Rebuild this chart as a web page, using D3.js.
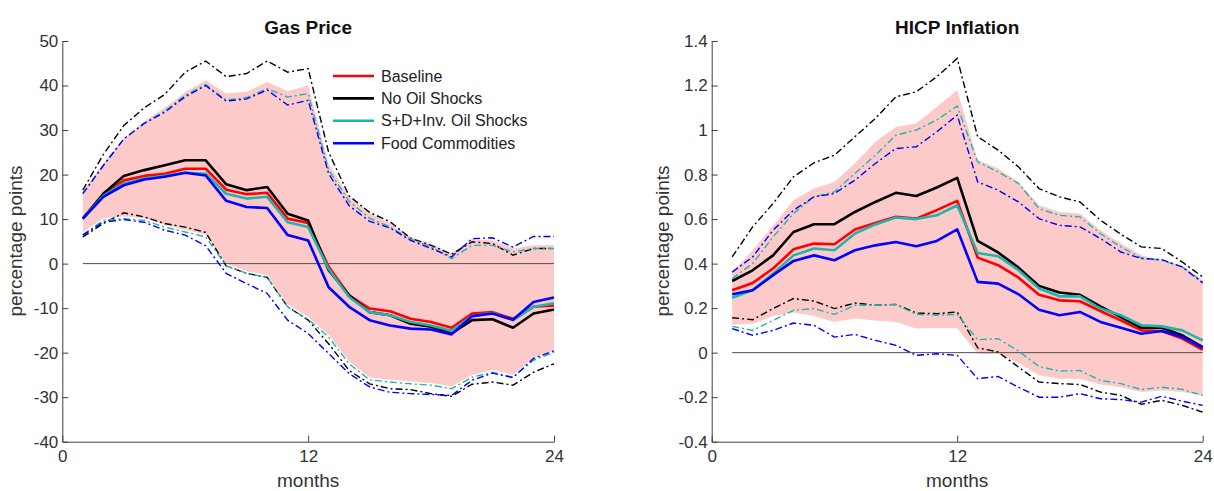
<!DOCTYPE html>
<html>
<head>
<meta charset="utf-8">
<script src="https://cdn.jsdelivr.net/npm/d3@7"></script>
<style>
  body { margin: 0; background: #fff; }
  svg { display: block; font-family: "Liberation Sans", Arial, sans-serif; }
</style>
</head>
<body>
<svg width="1214" height="491"></svg>
<script>
const months = [1, 2, 3, 4, 5, 6, 7, 8, 9, 10, 11, 12, 13, 14, 15, 16, 17, 18, 19, 20, 21, 22, 23, 24];
const xTicks = [0, 12, 24];
const seriesNames = ["Baseline", "No Oil Shocks", "S+D+Inv. Oil Shocks", "Food Commodities"];

// Gas Price
const gasTicks = [-40, -30, -20, -10, 0, 10, 20, 30, 40, 50];
const gasBase = [10.1, 15.3, 18.7, 19.7, 20.2, 21.3, 21.3, 16.6, 15.6, 15.9, 10.1, 9.1, -0.7, -7.1, -10.1, -10.7, -12.4, -13.1, -14.4, -11.2, -10.9, -12.4, -9.7, -9.4];
const gasBaseLo = [7, 10.2, 10.6, 10.2, 8.7, 7.6, 6.5, 0, -1.7, -2.6, -9.2, -12, -16, -22, -25.6, -26.1, -26.5, -26.8, -27.6, -25, -23.9, -25, -21.2, -19.4];
const gasBaseHi = [16.2, 22.5, 28, 32, 35, 38.5, 41.2, 38.2, 38.6, 40.8, 38.7, 40, 22.5, 15, 11.4, 9, 6, 4.5, 2.3, 5.5, 5.2, 3.4, 4.1, 4.1];
const gasNoOil = [10.1, 15.7, 19.7, 21.0, 22.1, 23.2, 23.2, 17.8, 16.5, 17.2, 11.2, 9.7, -1.5, -7.1, -10.9, -11.6, -13.5, -14.2, -15.7, -12.7, -12.5, -14.4, -11.2, -10.3];
const gasNoOilLo = [6, 9, 11.4, 10.5, 9, 8.2, 7, -0.5, -2.2, -3.1, -9.7, -12.7, -18, -24, -27, -28.1, -28.3, -29.2, -29.8, -27.1, -26.6, -27.3, -24.4, -22.5];
const gasNoOilHi = [16.5, 24.5, 31, 35, 38, 43, 45.5, 42, 42.7, 45.5, 43, 43.8, 25, 15.2, 11.5, 9.4, 5.7, 4.1, 2.1, 4.9, 4.5, 1.9, 3.4, 3.4];
const gasSD = [10.1, 15.2, 18.0, 19.1, 19.7, 20.4, 20.2, 15.7, 14.6, 15.0, 9.3, 8.2, -1.2, -7.5, -10.9, -11.6, -13.1, -13.9, -15.1, -11.8, -11.1, -12.7, -9.7, -8.9];
const gasSDLo = [6.5, 9.7, 10.1, 9.7, 8.2, 7.1, 6, -0.5, -2.2, -3.1, -9.7, -12.5, -16.5, -22.5, -26.1, -26.6, -27, -27.3, -28.1, -25.5, -24.4, -25.5, -21.7, -19.9];
const gasSDHi = [15.7, 22, 28, 31.5, 34.3, 37.8, 40.2, 36.7, 37.3, 39.3, 37.4, 38.2, 21, 14, 10.2, 8.2, 5.5, 3.8, 1.1, 4.1, 4.1, 2.6, 3.4, 3.4];
const gasFood = [10.1, 15.0, 17.6, 18.9, 19.5, 20.4, 19.8, 14.1, 12.7, 12.5, 6.4, 5.2, -5.3, -9.7, -12.7, -13.9, -14.6, -14.8, -15.9, -11.8, -11.2, -12.6, -8.6, -7.6];
const gasFoodLo = [6.4, 9.3, 9.9, 9.3, 7.5, 6.4, 4, -2.2, -4.5, -6.7, -12.7, -15.7, -20.2, -24.7, -27.7, -28.9, -29.2, -29.4, -29.6, -26.2, -24.6, -25.6, -21.3, -19.6];
const gasFoodHi = [15.7, 22, 28, 31.5, 34, 37.5, 40, 36.5, 37, 39, 35.6, 36.7, 20.2, 13, 9.5, 8, 5.2, 3.4, 1.5, 5.6, 5.8, 3.7, 6.1, 6.1];

// HICP Inflation
const hicpTicks = [-0.4, -0.2, 0, 0.2, 0.4, 0.6, 0.8, 1, 1.2, 1.4];
const hicpBase = [0.28, 0.313, 0.378, 0.464, 0.49, 0.487, 0.553, 0.583, 0.61, 0.602, 0.64, 0.682, 0.427, 0.393, 0.337, 0.26, 0.235, 0.231, 0.187, 0.145, 0.1, 0.097, 0.063, 0.013];
const hicpBaseLo = [0.125, 0.13, 0.165, 0.18, 0.165, 0.138, 0.153, 0.145, 0.138, 0.108, 0.11, 0.11, -0.005, -0.005, -0.047, -0.102, -0.117, -0.117, -0.143, -0.155, -0.177, -0.17, -0.177, -0.192];
const hicpBaseHi = [0.36, 0.46, 0.57, 0.685, 0.737, 0.767, 0.85, 0.947, 1.014, 1.03, 1.104, 1.18, 0.865, 0.827, 0.767, 0.662, 0.632, 0.625, 0.55, 0.49, 0.437, 0.415, 0.39, 0.325];
const hicpNoOil = [0.322, 0.37, 0.437, 0.542, 0.577, 0.577, 0.632, 0.677, 0.718, 0.704, 0.742, 0.785, 0.502, 0.45, 0.382, 0.3, 0.27, 0.26, 0.208, 0.16, 0.112, 0.112, 0.078, 0.025];
const hicpNoOilLo = [0.157, 0.148, 0.198, 0.243, 0.232, 0.198, 0.223, 0.213, 0.217, 0.178, 0.175, 0.183, 0.022, 0.003, -0.065, -0.132, -0.139, -0.143, -0.177, -0.192, -0.232, -0.214, -0.237, -0.267];
const hicpNoOilHi = [0.43, 0.565, 0.67, 0.79, 0.853, 0.887, 0.97, 1.052, 1.149, 1.172, 1.239, 1.322, 0.97, 0.91, 0.834, 0.737, 0.7, 0.677, 0.595, 0.532, 0.475, 0.468, 0.407, 0.34];
const hicpSD = [0.247, 0.28, 0.355, 0.437, 0.468, 0.46, 0.535, 0.576, 0.607, 0.6, 0.617, 0.662, 0.448, 0.433, 0.37, 0.288, 0.253, 0.253, 0.198, 0.168, 0.123, 0.118, 0.1, 0.055];
const hicpSDLo = [0.118, 0.1, 0.145, 0.19, 0.198, 0.172, 0.213, 0.213, 0.217, 0.172, 0.168, 0.172, 0.058, 0.063, 0.007, -0.062, -0.083, -0.08, -0.125, -0.139, -0.166, -0.155, -0.165, -0.192];
const hicpSDHi = [0.333, 0.40, 0.52, 0.625, 0.7, 0.722, 0.805, 0.887, 0.977, 1.0, 1.045, 1.108, 0.857, 0.812, 0.76, 0.647, 0.617, 0.61, 0.535, 0.475, 0.425, 0.415, 0.385, 0.318];
const hicpFood = [0.262, 0.28, 0.348, 0.412, 0.437, 0.415, 0.46, 0.482, 0.497, 0.478, 0.502, 0.554, 0.318, 0.31, 0.262, 0.193, 0.168, 0.183, 0.138, 0.112, 0.085, 0.097, 0.07, 0.022];
const hicpFoodLo = [0.108, 0.078, 0.1, 0.133, 0.123, 0.07, 0.082, 0.055, 0.033, -0.012, -0.005, -0.012, -0.117, -0.107, -0.155, -0.2, -0.2, -0.184, -0.207, -0.211, -0.222, -0.196, -0.218, -0.237];
const hicpFoodHi = [0.362, 0.43, 0.55, 0.64, 0.7, 0.715, 0.775, 0.85, 0.917, 0.925, 0.992, 1.067, 0.767, 0.73, 0.677, 0.602, 0.572, 0.565, 0.513, 0.452, 0.423, 0.418, 0.385, 0.313];

const colors = ["#ff0000", "#000000", "#1fb5ae", "#0000ff"];
const bandColor = "#fdcaca";
const axisColor = "#404040";

const svg = d3.select("svg");

function drawPanel(p) {
  const x = d3.scaleLinear().domain([0, 24]).range([p.x0, p.x1]);
  const y = d3.scaleLinear().domain(p.yDomain).range([441.7, 41]);
  const g = svg.append("g");

  // shaded band around the baseline
  const band = months.map((m, i) => ({m: m, lo: p.bandLo[i], hi: p.bandHi[i]}));
  g.append("path")
    .datum(band)
    .attr("fill", bandColor)
    .attr("d", d3.area().x(d => x(d.m)).y0(d => y(d.lo)).y1(d => y(d.hi)));

  // zero line
  g.append("line")
    .attr("x1", x(months[0])).attr("x2", x(months[months.length - 1]))
    .attr("y1", y(0)).attr("y2", y(0))
    .attr("stroke", "#505050").attr("stroke-width", 1);

  const line = d3.line().x((d, i) => x(months[i])).y(d => y(d));

  // dash-dot bounds of the alternative models
  p.bounds.forEach(b => {
    [b.lo, b.hi].forEach(arr => {
      g.append("path")
        .datum(arr)
        .attr("fill", "none")
        .attr("stroke", colors[b.k])
        .attr("stroke-width", 1.4)
        .attr("stroke-dasharray", "7,3,2,3")
        .attr("d", line);
    });
  });

  // median responses
  p.medians.forEach((arr, k) => {
    g.append("path")
      .datum(arr)
      .attr("fill", "none")
      .attr("stroke", colors[k])
      .attr("stroke-width", 2.6)
      .attr("stroke-linejoin", "round")
      .attr("d", line);
  });

  // axes (plain hyphen for negatives, like the original)
  const xAxis = g.append("g")
    .attr("transform", `translate(0,${y.range()[0]})`)
    .call(d3.axisBottom(x).tickValues(xTicks).tickSizeInner(-6).tickSizeOuter(0).tickPadding(8));
  const yAxis = g.append("g")
    .attr("transform", `translate(${p.x0},0)`)
    .call(d3.axisLeft(y).tickValues(p.yTicks).tickFormat(d => String(d)).tickSizeInner(-6).tickSizeOuter(0).tickPadding(4));
  [xAxis, yAxis].forEach(a => {
    a.select(".domain").attr("stroke", axisColor);
    a.selectAll(".tick line").attr("stroke", axisColor);
    a.selectAll(".tick text")
      .attr("fill", "#333")
      .style("font-size", "17px")
      .style("font-family", "'Liberation Sans', Arial, sans-serif");
  });

  // title and axis labels
  g.append("text")
    .attr("x", (p.x0 + p.x1) / 2).attr("y", 33.5)
    .attr("text-anchor", "middle")
    .style("font-size", "19px").style("font-weight", "bold")
    .attr("fill", "#111")
    .text(p.title);
  g.append("text")
    .attr("x", (p.x0 + p.x1) / 2).attr("y", 487)
    .attr("text-anchor", "middle")
    .style("font-size", "19px")
    .attr("fill", "#333")
    .text("months");
  g.append("text")
    .attr("transform", `translate(${p.labelX},241) rotate(-90)`)
    .attr("text-anchor", "middle")
    .style("font-size", "19px")
    .attr("fill", "#333")
    .text("percentage points");
}

drawPanel({
  title: "Gas Price",
  x0: 62.3, x1: 554,
  yDomain: [-40, 50], yTicks: gasTicks,
  labelX: 22,
  bandLo: gasBaseLo, bandHi: gasBaseHi,
  bounds: [{k: 1, lo: gasNoOilLo, hi: gasNoOilHi}, {k: 2, lo: gasSDLo, hi: gasSDHi}, {k: 3, lo: gasFoodLo, hi: gasFoodHi}],
  medians: [gasBase, gasNoOil, gasSD, gasFood]
});

drawPanel({
  title: "HICP Inflation",
  x0: 711.7, x1: 1202.7,
  yDomain: [-0.4, 1.4], yTicks: hicpTicks,
  labelX: 669,
  bandLo: hicpBaseLo, bandHi: hicpBaseHi,
  bounds: [{k: 1, lo: hicpNoOilLo, hi: hicpNoOilHi}, {k: 2, lo: hicpSDLo, hi: hicpSDHi}, {k: 3, lo: hicpFoodLo, hi: hicpFoodHi}],
  medians: [hicpBase, hicpNoOil, hicpSD, hicpFood]
});

// legend (left panel, no box)
const legend = svg.append("g").attr("transform", "translate(333,76)");
seriesNames.forEach((name, i) => {
  const row = legend.append("g").attr("transform", `translate(0,${i * 22.4})`);
  row.append("line")
    .attr("x1", 0).attr("x2", 41)
    .attr("stroke", colors[i]).attr("stroke-width", 2.6);
  row.append("text")
    .attr("x", 48).attr("y", 5.5)
    .style("font-size", "16px")
    .attr("fill", "#222")
    .text(name);
});
</script>
</body>
</html>
